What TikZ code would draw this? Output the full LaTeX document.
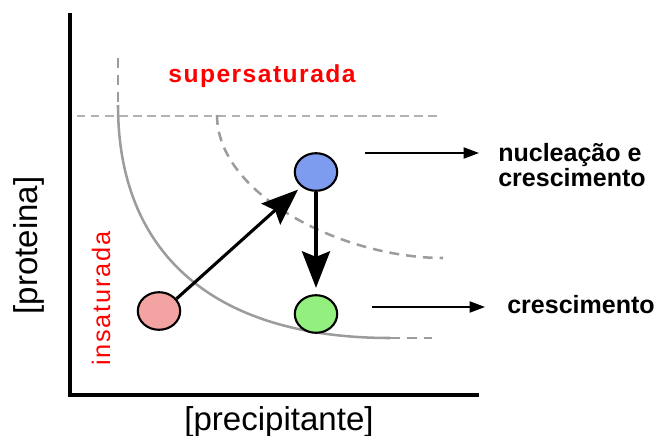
\documentclass[tikz,border=0pt]{standalone}
\usepackage{fontspec}
\setmainfont{Liberation Sans}
\usetikzlibrary{shapes.geometric,arrows.meta}
\definecolor{corRosa}{HTML}{F4A3A3}
\definecolor{corAzul}{HTML}{7D9CF0}
\definecolor{corVerde}{HTML}{93F07F}
\definecolor{corCurva}{HTML}{9C9C9C}
\begin{document}
\begin{tikzpicture}[
    bola/.style={ellipse, draw, line width=1.5pt, minimum width=1.06cm, minimum height=0.94cm, inner sep=0pt},
    grossa/.style={line width=2.2pt, -{Stealth[length=26pt, width=20pt, inset=4pt]}},
    fina/.style={line width=1pt, -{Triangle[length=11pt, width=8pt]}},
    curva/.style={draw=corCurva, line width=1.8pt},
    tracos/.style={dash pattern=on 7pt off 5pt},
    rotulo/.style={inner sep=0pt, font=\bfseries\fontsize{17.8}{15.6}\selectfont}
  ]
  \useasboundingbox (0,0) rectangle (16.425,10.875);

  % eixos
  \draw[line width=2.5pt] (1.75,10.55) -- (1.75,1.0) -- (11.975,1.0);
  \node[rotate=90, inner sep=0pt, font=\fontsize{23.5}{28}\selectfont] (eixoy) at (0.725,4.74) {[proteina]};
  \node[anchor=base, inner sep=0pt, font=\fontsize{23.5}{28}\selectfont] (eixox) at (6.975,0.125) {[precipitante]};

  % regioes
  \node[anchor=base, inner sep=0pt, text=red, font=\bfseries\fontsize{17.5}{20}\selectfont\addfontfeatures{LetterSpace=6}] (super) at (6.55,8.8) {supersaturada};
  \node[rotate=90, anchor=base, inner sep=0pt, text=red, font=\fontsize{18}{21}\selectfont\addfontfeatures{LetterSpace=7}] (insat) at (2.75,3.41) {insaturada};

  % curvas
  \draw[draw=gray!60, line width=1.1pt, dash pattern=on 6pt off 4pt] (1.925,7.975) -- (11.0,7.975);
  \draw[curva, tracos] (2.95,9.425) -- (2.95,8.25);
  \draw[curva] (2.95,8.25) .. controls (2.95,4.5) and (5.375,2.425) .. (9.75,2.425);
  \draw[curva, tracos] (9.75,2.425) -- (10.8,2.425);
  \draw[curva, tracos] (5.425,8.0) .. controls (5.425,6.0) and (8.575,4.425) .. (11.075,4.425);

  % gotas
  \node[bola, fill=corRosa] (rosa) at (3.975,3.1) {};
  \node[bola, fill=corAzul] (azul) at (7.9,6.575) {};
  \node[bola, fill=corVerde] (verde) at (7.9,3.025) {};
  \draw[grossa, shorten >=3pt] (rosa.35) -- (azul.225);
  \draw[grossa, shorten >=4.5pt] (azul) -- (verde);

  % legendas
  \node[rotulo, anchor=west, align=left] (nucl) at (12.45,6.74) {nucleação e\\crescimento};
  \node[rotulo, anchor=base west] (cresc) at (12.675,3.05) {crescimento};
  \coordinate (s1) at (9.125,7.05);
  \coordinate (s2) at (9.3,3.2);
  \draw[fina, shorten >=0.475cm] (s1) -- (s1 -| nucl.west);
  \draw[fina, shorten >=0.55cm] (s2) -- (s2 -| cresc.west);
\end{tikzpicture}
\end{document}
